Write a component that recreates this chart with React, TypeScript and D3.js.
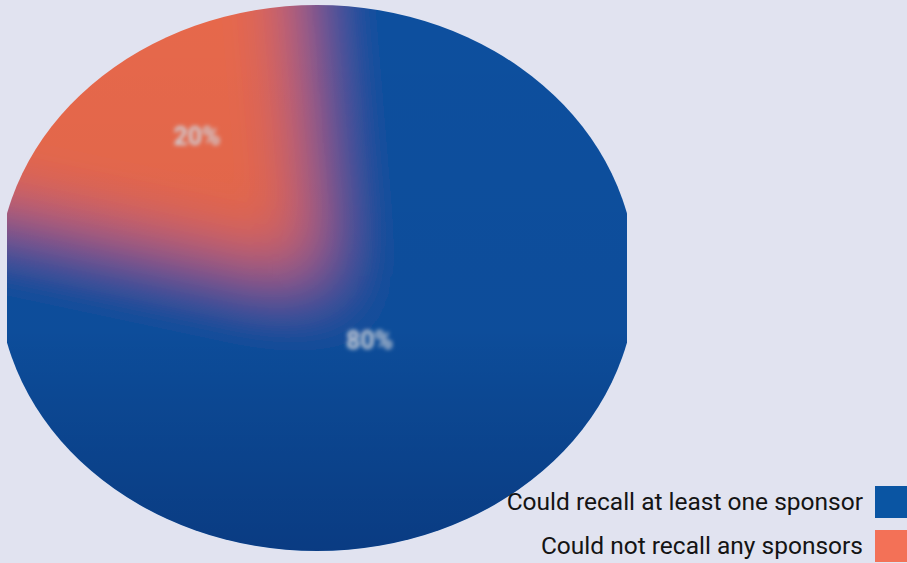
import React from 'react';
import * as d3 from 'd3';

const W = 907;
const H = 563;

const categories = ['Could recall at least one sponsor', 'Could not recall any sponsors'];
const values = [80, 20];
const labels = ['80%', '20%'];
const colors = ['#0c4f9e', '#e6684c'];
const legendColors = ['#0a55a3', '#f37157'];

const cx = 317;
const cy = 278;
const rx = 319;
const ry = 273;
const rotation = -0.07;

export default function App() {
  const pie = d3
    .pie<number>()
    .sort(null)
    .value((d) => d)
    .startAngle(rotation)
    .endAngle(Math.PI * 2 + rotation);
  const slices = pie(values);

  // slices drawn oversized so the blur stays solid inside the clip
  const arcBig = d3.arc<d3.PieArcDatum<number>>().innerRadius(0).outerRadius(1.7);

  const labelPos = (d: d3.PieArcDatum<number>) => {
    const share = (d.endAngle - d.startAngle) / (Math.PI * 2);
    const r = share > 0.5 ? 0.28 : 0.64;
    const a = (d.startAngle + d.endAngle) / 2 - rotation;
    return [cx + Math.sin(a) * r * rx, cy - Math.cos(a) * r * ry];
  };

  // legend rows: baseline positions
  const legendY = d3.scalePoint<string>().domain(categories).range([510, 554]);

  return (
    <svg
      width={W}
      height={H}
      style={{ position: 'absolute', left: 0, top: 0, background: '#e1e3f0' }}
      fontFamily="Roboto, sans-serif"
    >
      <defs>
        <clipPath id="pieClip">
          <ellipse cx={cx} cy={cy} rx={rx} ry={ry} />
        </clipPath>
        <clipPath id="sideClip">
          <rect x={7} y={0} width={620} height={H} />
        </clipPath>
        <filter id="soft" x="-30%" y="-30%" width="160%" height="160%">
          <feGaussianBlur stdDeviation={34} />
        </filter>
        <filter id="textBlur" x="-20%" y="-50%" width="140%" height="200%">
          <feGaussianBlur stdDeviation={2} />
        </filter>
        <linearGradient id="shade" x1="0" y1="0" x2="0" y2="1">
          <stop offset="0" stopColor="#000020" stopOpacity={0} />
          <stop offset="0.6" stopColor="#000020" stopOpacity={0.03} />
          <stop offset="1" stopColor="#000030" stopOpacity={0.25} />
        </linearGradient>
      </defs>

      <g clipPath="url(#sideClip)">
        <g clipPath="url(#pieClip)">
          <g filter="url(#soft)">
            <g transform={`translate(${cx},${cy}) scale(${rx},${ry})`}>
              {slices.map((d, i) => (
                <path key={i} d={arcBig(d) ?? ''} fill={colors[i]} />
              ))}
            </g>
          </g>
          <ellipse cx={cx} cy={cy} rx={rx} ry={ry} fill="url(#shade)" />
        </g>
      </g>

      {slices.map((d, i) => {
        const [x, y] = labelPos(d);
        return (
          <text
            key={i}
            x={x}
            y={y}
            dy="0.35em"
            textAnchor="middle"
            fontSize={25}
            fontWeight={700}
            fill="#d0d3da"
            filter="url(#textBlur)"
          >
            {labels[i]}
          </text>
        );
      })}

      {categories.map((c, i) => {
        const y = legendY(c) ?? 0;
        return (
          <g key={c}>
            <rect x={875} y={y - 24} width={32} height={32} fill={legendColors[i]} />
            <text x={863} y={y} textAnchor="end" fontSize={24.5} fill="#141414">
              {c}
            </text>
          </g>
        );
      })}
    </svg>
  );
}
